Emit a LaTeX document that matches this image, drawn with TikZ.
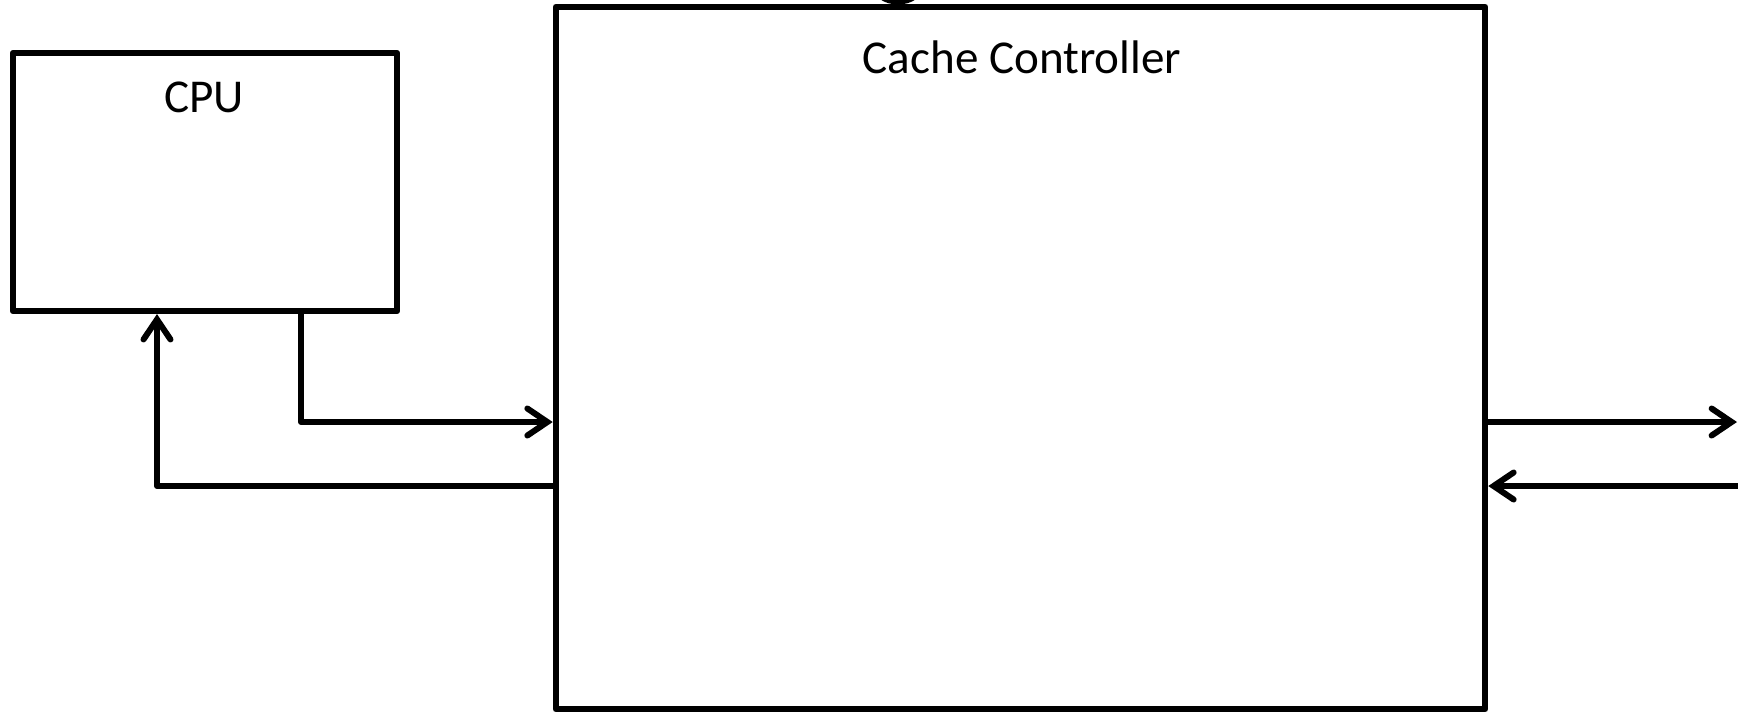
\documentclass[tikz,border=0pt]{standalone}
\usepackage{fontspec}
\setmainfont{Carlito}
\usetikzlibrary{arrows.meta}
\tikzset{
  blk/.style={draw, line width=0.06cm, line join=round, inner sep=0pt},
  lbl/.style={font=\fontsize{13.4pt}{15pt}\selectfont, inner sep=0pt, anchor=center},
  wire/.style={line width=0.06cm, line join=round,
    -{Straight Barb[length=0.2cm, width=0.27cm, line width=0.06cm, line cap=round]}},
  plain/.style={line width=0.07cm, line join=round}
}
\begin{document}
\begin{tikzpicture}[x=0.01cm, y=-0.01cm]
\useasboundingbox (0,0) rectangle (1738,711);
% boxes
\node[blk, minimum width=3.84cm, minimum height=2.58cm] (cpu) at (205,182) {};
\node[blk, minimum width=9.29cm, minimum height=7.02cm] (cc) at (1020.5,358) {};
\node[lbl] (cputxt) at (204,97) {CPU};
\node[lbl] (cctxt) at (1022,57) {Cache Controller};
% free ends at the right border
\coordinate (outR) at (1737,422);
\coordinate (inR) at (1740,486);
% CPU -> cache
\draw[wire] (cpu.south west -| 301,0) |- (cc.west |- 0,422);
% cache -> CPU
\draw[wire] (cc.west |- 0,486) -| (cpu.south west -| 157,0);
% cache -> right
\draw[wire] (cc.east |- 0,422) -- (outR);
% right -> cache
\draw[wire] (inR) -- (cc.east |- 0,486);
% cut-off glyph at the top border
\draw[plain] (898,-14) ellipse [x radius=22, y radius=15];
\end{tikzpicture}
\end{document}
